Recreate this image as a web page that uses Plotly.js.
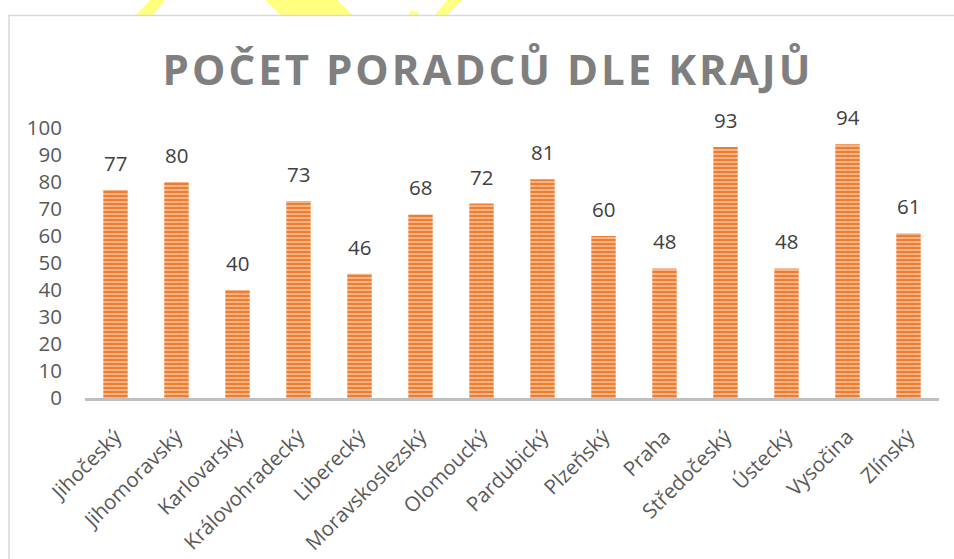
<!DOCTYPE html>
<html>
<head>
<meta charset="utf-8">
<script src="https://cdn.plot.ly/plotly-3.0.1.min.js"></script>
<style>html,body{margin:0;padding:0;background:#fff;}#chart{width:954px;height:559px;}</style>
</head>
<body>
<div id="chart"></div>
<script>
const categories = ["Jihočeský","Jihomoravský","Karlovarský","Královohradecký","Liberecký","Moravskoslezský","Olomoucký","Pardubický","Plzeňský","Praha","Středočeský","Ústecký","Vysočina","Zlínský"];
const values = [77,80,40,73,46,68,72,81,60,48,93,48,94,61];
const yTicks = [0,10,20,30,40,50,60,70,80,90,100];
const chartTitle = "POČET PORADCŮ DLE KRAJŮ";

const W = 954, H = 559, ML = 85, MR = 15, MT = 128, MB = 161;
const PW = W - ML - MR, PH = H - MT - MB;
const px = x => (x - ML) / PW;
const py = y => (H - MB - y) / PH;
const poly = pts => 'M' + pts.map(p => px(p[0]) + ',' + py(p[1])).join(' L') + ' Z';

const yellow = '#ffff80';
const shapes = [
  {type:'path', xref:'paper', yref:'paper', path: poly([[150,0],[165,0],[153,15],[136,15]]), fillcolor: yellow, line:{width:0}, layer:'below'},
  {type:'path', xref:'paper', yref:'paper', path: poly([[265,0],[337,0],[353,15],[280,15]]), fillcolor: yellow, line:{width:0}, layer:'below'},
  {type:'path', xref:'paper', yref:'paper', path: poly([[410,10],[420,13],[418,15],[409,15]]), fillcolor: yellow, line:{width:0}, layer:'below'},
  {type:'path', xref:'paper', yref:'paper', path: poly([[447,0],[462,0],[447,15],[435,15]]), fillcolor: yellow, line:{width:0}, layer:'below'},
  {type:'rect', xref:'paper', yref:'paper', x0: px(9), x1: px(960), y0: py(565), y1: py(15.5), line:{color:'#d9d9d9', width:1.5}, fillcolor:'rgba(0,0,0,0)', layer:'below'}
];

const labelFont = {family:'Open Sans, sans-serif', size:20.5, color:'#404040'};
const annotations = categories.map((c, i) => ({
  x: c, y: values[i], xref:'x', yref:'y', text: String(values[i]),
  showarrow:false, yanchor:'bottom', yshift: 11,
  font: labelFont
}));

const trace = {
  type:'bar', x: categories, y: values,
  marker:{
    color:'#ed7d31',
    line:{width:0},
    pattern:{shape:'-', fgcolor:'#fcd9bf', bgcolor:'#ed7d31', size:4, solidity:0.3}
  },
  hoverinfo:'x+y'
};

const layout = {
  width: W, height: H,
  margin:{l:ML, r:MR, t:MT, b:MB, pad:0},
  paper_bgcolor:'#ffffff', plot_bgcolor:'#ffffff',
  bargap: 0.6,
  showlegend:false,
  title:{
    text: chartTitle,
    font:{family:'Open Sans, sans-serif', size:42, color:'#7f7f7f', weight:700},
    xref:'container', yref:'container', x: 488/W, xanchor:'center',
    y: 1 - 70/H, yanchor:'middle'
  },
  xaxis:{
    type:'category', tickangle:-45, showgrid:false, zeroline:false,
    showline:true, linecolor:'#bfbfbf', linewidth:2.5,
    ticks:'', ticklabelstandoff: 16,
    tickfont:{family:'Open Sans, sans-serif', size:20.5, color:'#595959'},
    range:[-0.5, categories.length - 0.5]
  },
  yaxis:{
    range:[0,100], tickvals: yTicks, ticktext: yTicks.map(String),
    showgrid:false, zeroline:false, showline:false, ticks:'',
    ticklabelstandoff: 22,
    tickfont:{family:'Open Sans, sans-serif', size:20.5, color:'#595959'}
  },
  shapes: shapes,
  annotations: annotations
};

Plotly.newPlot('chart', [trace], layout, {displayModeBar:false, staticPlot:true}).then(() => {
  const t = document.querySelector('.gtitle');
  if (t) { t.style.letterSpacing = '3px'; }
});
</script>
</body>
</html>
